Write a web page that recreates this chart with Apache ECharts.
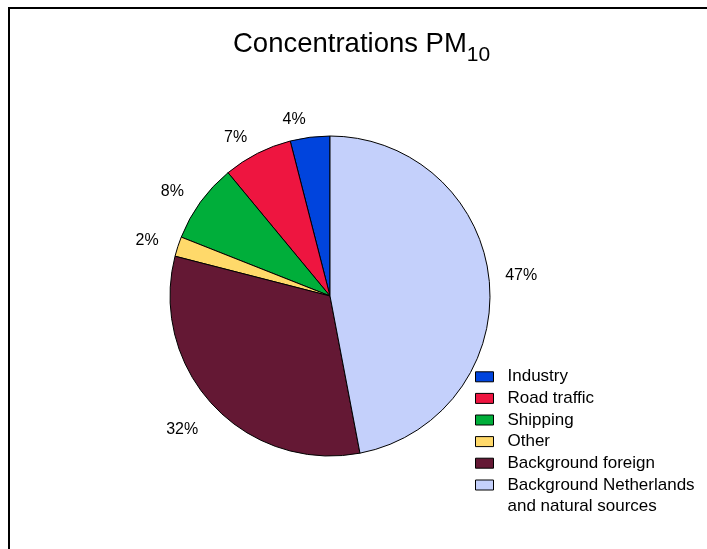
<!DOCTYPE html>
<html>
<head>
<meta charset="utf-8">
<script src="https://cdn.jsdelivr.net/npm/echarts@6/dist/echarts.min.js"></script>
<style>
html,body{margin:0;padding:0;background:#fff;}
#chart{width:707px;height:549px;}
</style>
</head>
<body>
<div id="chart"></div>
<script>
var categories = ['Industry', 'Road traffic', 'Shipping', 'Other', 'Background foreign', 'Background Netherlands and natural sources'];
var values = [4, 7, 8, 2, 32, 47];
var colors = ['#0044DD', '#EE1540', '#00AE3A', '#FFD96A', '#641834', '#C4D0FB'];
var FONT = 'Liberation Sans, Arial, sans-serif';

var chart = echarts.init(document.getElementById('chart'), null, {renderer: 'canvas'});

// small per-label nudges to match the reference placement
var labelTweaks = {
  'Background foreign': {offset: [0, 12]},
  'Background Netherlands and natural sources': {offset: [0, -4], distanceToLabelLine: -2}
};

var pieData = categories.map(function (c, i) {
  var d = {name: c, value: values[i], itemStyle: {color: colors[i]}};
  if (labelTweaks[c]) d.label = labelTweaks[c];
  return d;
});

var legendItemStyle = {borderColor: '#000', borderWidth: 1};

chart.setOption({
  animation: false,
  backgroundColor: '#fff',
  graphic: [{
    type: 'rect',
    shape: {x: 9, y: 8, width: 760, height: 600},
    style: {fill: 'none', stroke: '#000', lineWidth: 2},
    silent: true
  }],
  title: {
    text: 'Concentrations PM{sub|10}',
    left: 233,
    top: 22,
    padding: 0,
    textStyle: {
      fontFamily: FONT,
      fontSize: 27.5,
      fontWeight: 'normal',
      color: '#000',
      lineHeight: 44,
      rich: {
        sub: {fontFamily: FONT, fontSize: 21, color: '#000', lineHeight: 21, verticalAlign: 'bottom'}
      }
    }
  },
  legend: [{
    orient: 'vertical',
    left: 475,
    top: 366,
    padding: 0,
    itemGap: 0,
    itemWidth: 18,
    itemHeight: 10,
    icon: 'rect',
    itemStyle: legendItemStyle,
    data: categories.slice(0, 5),
    textStyle: {fontFamily: FONT, fontSize: 17, color: '#000', lineHeight: 21.6, padding: [0, 0, 0, 9]}
  }, {
    orient: 'vertical',
    left: 475,
    top: 452.6,
    padding: 0,
    itemGap: 0,
    itemWidth: 18,
    itemHeight: 10,
    icon: 'rect',
    itemStyle: legendItemStyle,
    data: categories.slice(5),
    formatter: function () { return ' \nBackground Netherlands\nand natural sources'; },
    textStyle: {fontFamily: FONT, fontSize: 17, color: '#000', lineHeight: 21.6, padding: [0, 0, 0, 9]}
  }],
  series: [{
    type: 'pie',
    center: [330, 296],
    radius: 160,
    startAngle: 90,
    clockwise: false,
    avoidLabelOverlap: false,
    data: pieData,
    itemStyle: {borderColor: '#000', borderWidth: 1},
    label: {
      show: true,
      position: 'outside',
      formatter: '{c}%',
      fontFamily: FONT,
      fontSize: 16,
      color: '#000',
      distanceToLabelLine: 2
    },
    labelLine: {show: false, length: 18, length2: 0},
    emphasis: {disabled: true}
  }]
});
</script>
</body>
</html>
